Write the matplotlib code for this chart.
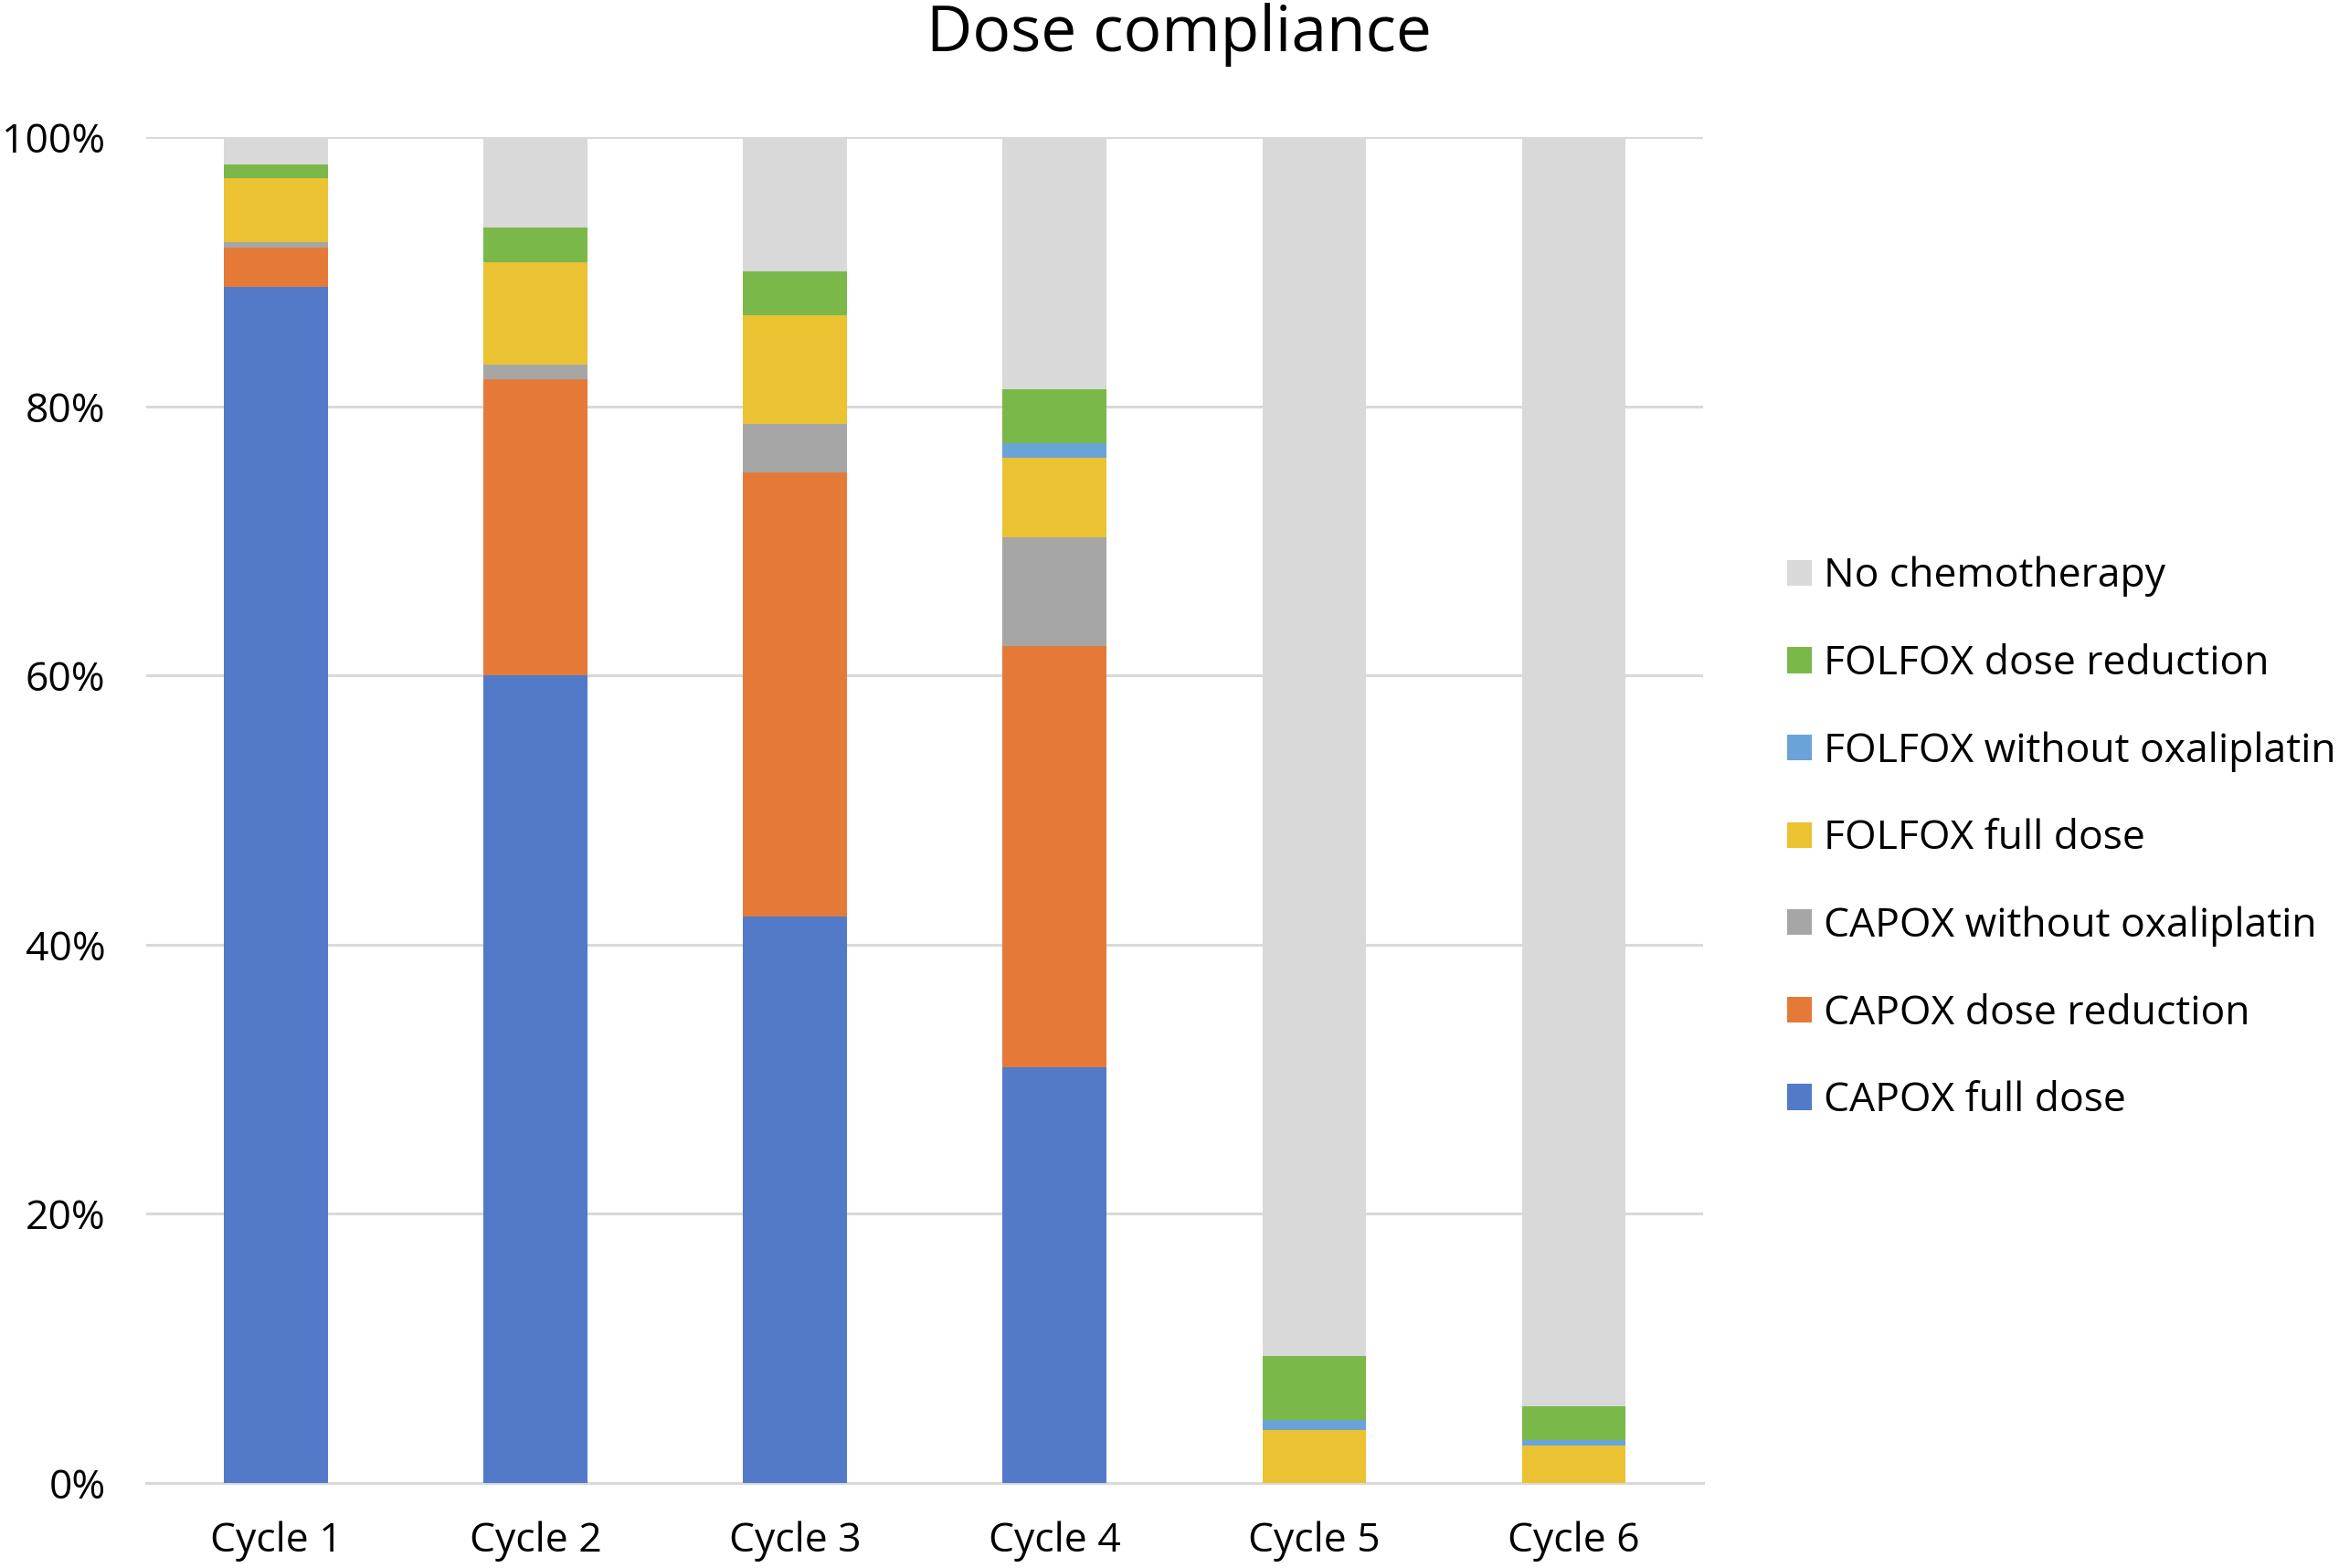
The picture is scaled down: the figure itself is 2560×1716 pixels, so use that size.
import matplotlib
matplotlib.use("Agg")
import matplotlib.pyplot as plt
import numpy as np
from matplotlib.ticker import FuncFormatter
from matplotlib.patches import Patch

plt.rcParams['font.family'] = ['Open Sans', 'DejaVu Sans']

cycles = ["Cycle 1", "Cycle 2", "Cycle 3", "Cycle 4", "Cycle 5", "Cycle 6"]
capox_full = [88.9, 60.0, 42.1, 30.9, 0.0, 0.0]
capox_reduction = [2.9, 22.0, 33.0, 31.3, 0.0, 0.0]
capox_without_oxa = [0.4, 1.1, 3.6, 8.05, 0.0, 0.0]
folfox_full = [4.75, 7.65, 8.1, 5.95, 3.95, 2.8]
folfox_without_oxa = [0.0, 0.0, 0.0, 1.05, 0.7, 0.4]
folfox_reduction = [1.05, 2.55, 3.25, 4.05, 4.8, 2.5]

series_names = ["CAPOX full dose", "CAPOX dose reduction", "CAPOX without oxaliplatin",
                "FOLFOX full dose", "FOLFOX without oxaliplatin", "FOLFOX dose reduction",
                "No chemotherapy"]
colors = ["#527AC9", "#E57A38", "#A6A6A6", "#EBC232", "#6AA3D8", "#7AB84A", "#D9D9D9"]

parts = [capox_full, capox_reduction, capox_without_oxa, folfox_full,
         folfox_without_oxa, folfox_reduction]
no_chemo = list(100 - np.sum(np.array(parts), axis=0))
parts.append(no_chemo)

fig = plt.figure(figsize=(25.6, 17.16), dpi=100)
ax = fig.add_axes([0.0625, 0.0543, 0.6658, 0.8581])

x = np.arange(len(cycles))
bottom = np.zeros(len(cycles))
for vals, c, name in zip(parts, colors, series_names):
    ax.bar(x, vals, width=0.40, bottom=bottom, color=c, label=name, zorder=3)
    bottom += np.array(vals)

ax.set_xlim(-0.5, len(cycles) - 0.5)
ax.set_ylim(0, 100)
ax.set_yticks(np.arange(0, 101, 20))
ax.yaxis.set_major_formatter(FuncFormatter(lambda v, p: f"{int(v)}%"))
ax.set_xticks(x)
ax.set_xticklabels(cycles)
ax.grid(axis='y', color='#D9D9D9', linewidth=2.2, zorder=0)
for s in ['top', 'right', 'left']:
    ax.spines[s].set_visible(False)
ax.spines['bottom'].set_color('#D9D9D9')
ax.spines['bottom'].set_linewidth(2.2)
ax.tick_params(axis='both', length=0, labelsize=32, colors='#000000')
ax.tick_params(axis='y', pad=32)
ax.tick_params(axis='x', pad=30)

fig.text(0.504, 0.978, "Dose compliance", ha='center', va='center', fontsize=50)

handles = [Patch(facecolor=c, edgecolor='none') for c in colors][::-1]
labels = series_names[::-1]
fig.legend(handles, labels, loc='center left', bbox_to_anchor=(0.764, 0.465),
           frameon=False, fontsize=32, handlelength=0.6, handleheight=0.6,
           handletextpad=0.3, labelspacing=1.15, borderaxespad=0, borderpad=0)

fig.savefig("out.png", dpi=100)
